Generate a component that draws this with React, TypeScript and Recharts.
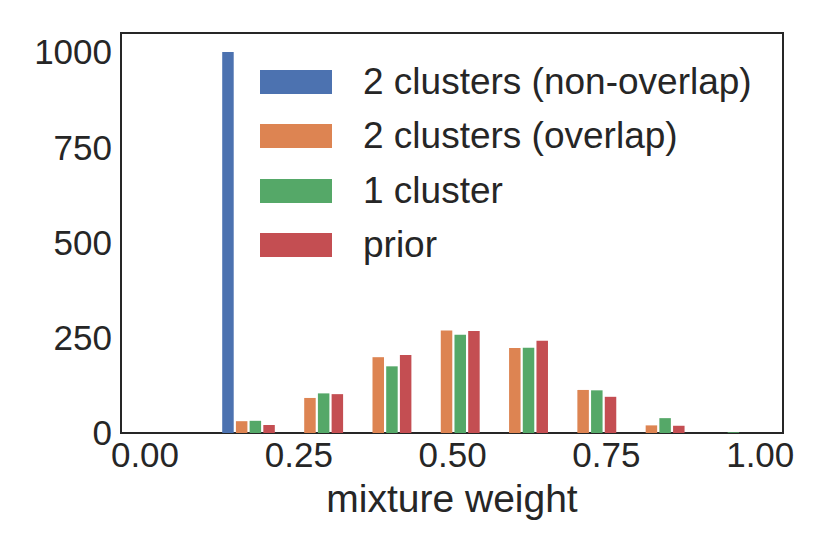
import { BarChart, Bar, XAxis, YAxis, Legend, ReferenceArea } from "recharts";

// histogram bins: centre of each of the 8 bins on the mixture-weight axis
const BIN_CENTERS = [0.168, 0.279, 0.39, 0.501, 0.612, 0.723, 0.834, 0.945];

// counts per bin
const NON_OVERLAP = [1000, 0, 0, 0, 0, 0, 0, 0];
const OVERLAP = [31, 92, 199, 269, 223, 113, 20, 0];
const ONE_CLUSTER = [32, 104, 175, 258, 224, 112, 39, 2];
const PRIOR = [21, 102, 205, 268, 242, 95, 19, 0];

const SERIES = [
  { key: "nonOverlap", name: "2 clusters (non-overlap)", color: "#4C72B0", values: NON_OVERLAP },
  { key: "overlap", name: "2 clusters (overlap)", color: "#DD8452", values: OVERLAP },
  { key: "oneCluster", name: "1 cluster", color: "#55A868", values: ONE_CLUSTER },
  { key: "prior", name: "prior", color: "#C44E52", values: PRIOR },
];

const X_TICKS = [0, 0.25, 0.5, 0.75, 1];
const Y_TICKS = [0, 250, 500, 750, 1000];
const X_DOMAIN: [number, number] = [-0.039, 1.037];
const Y_DOMAIN: [number, number] = [0, 1050];

const FONT = '"Liberation Sans", Arial, sans-serif';
const INK = "#262626";

const chartData = BIN_CENTERS.map((x, i) => {
  const row: Record<string, number> = { x };
  for (const s of SERIES) row[s.key] = s.values[i];
  return row;
});

function LegendBox() {
  return (
    <div style={{ fontFamily: FONT, color: INK }}>
      {SERIES.map((s) => (
        <div
          key={s.key}
          style={{ display: "flex", alignItems: "center", height: 54.3 }}
        >
          <span
            style={{
              display: "inline-block",
              width: 72,
              height: 24,
              background: s.color,
              marginRight: 31,
            }}
          />
          <span style={{ fontSize: 37, lineHeight: "40px", whiteSpace: "nowrap" }}>
            {s.name}
          </span>
        </div>
      ))}
    </div>
  );
}

export default function App() {
  return (
    <div
      style={{
        position: "absolute",
        left: 0,
        top: 0,
        width: 830,
        height: 554,
        background: "#fff",
        fontFamily: FONT,
      }}
    >
      <BarChart
        width={830}
        height={554}
        data={chartData}
        margin={{ top: 33, right: 47, bottom: 0, left: 0 }}
        barGap={2.2}
      >
        <XAxis
          dataKey="x"
          type="number"
          domain={X_DOMAIN}
          allowDataOverflow
          ticks={X_TICKS}
          interval={0}
          height={121}
          tickLine={false}
          axisLine={false}
          tickMargin={3}
          fontSize={35}
          tick={{ fontSize: 35, fill: INK, fontFamily: FONT }}
          tickFormatter={(v) => Number(v).toFixed(2)}
          label={{
            value: "mixture weight",
            position: "insideBottom",
            offset: 42,
            fontSize: 39,
            fill: INK,
            fontFamily: FONT,
          }}
        />
        <YAxis
          domain={Y_DOMAIN}
          ticks={Y_TICKS}
          interval={0}
          width={121}
          tickLine={false}
          axisLine={false}
          tickMargin={3}
          fontSize={35}
          tick={{ fontSize: 35, fill: INK, fontFamily: FONT }}
        />
        <Legend
          layout="horizontal"
          verticalAlign="middle"
          align="center"
          wrapperStyle={{ position: "absolute", left: 260, top: 55, width: 520 }}
          content={() => <LegendBox />}
        />
        {SERIES.map((s) => (
          <Bar
            key={s.key}
            dataKey={s.key}
            name={s.name}
            fill={s.color}
            barSize={11.5}
            isAnimationActive={false}
          />
        ))}
        <ReferenceArea
          x1={X_DOMAIN[0]}
          x2={X_DOMAIN[1]}
          y1={Y_DOMAIN[0]}
          y2={Y_DOMAIN[1]}
          fill="none"
          stroke={INK}
          strokeWidth={2}
          ifOverflow="visible"
        />
      </BarChart>
    </div>
  );
}
